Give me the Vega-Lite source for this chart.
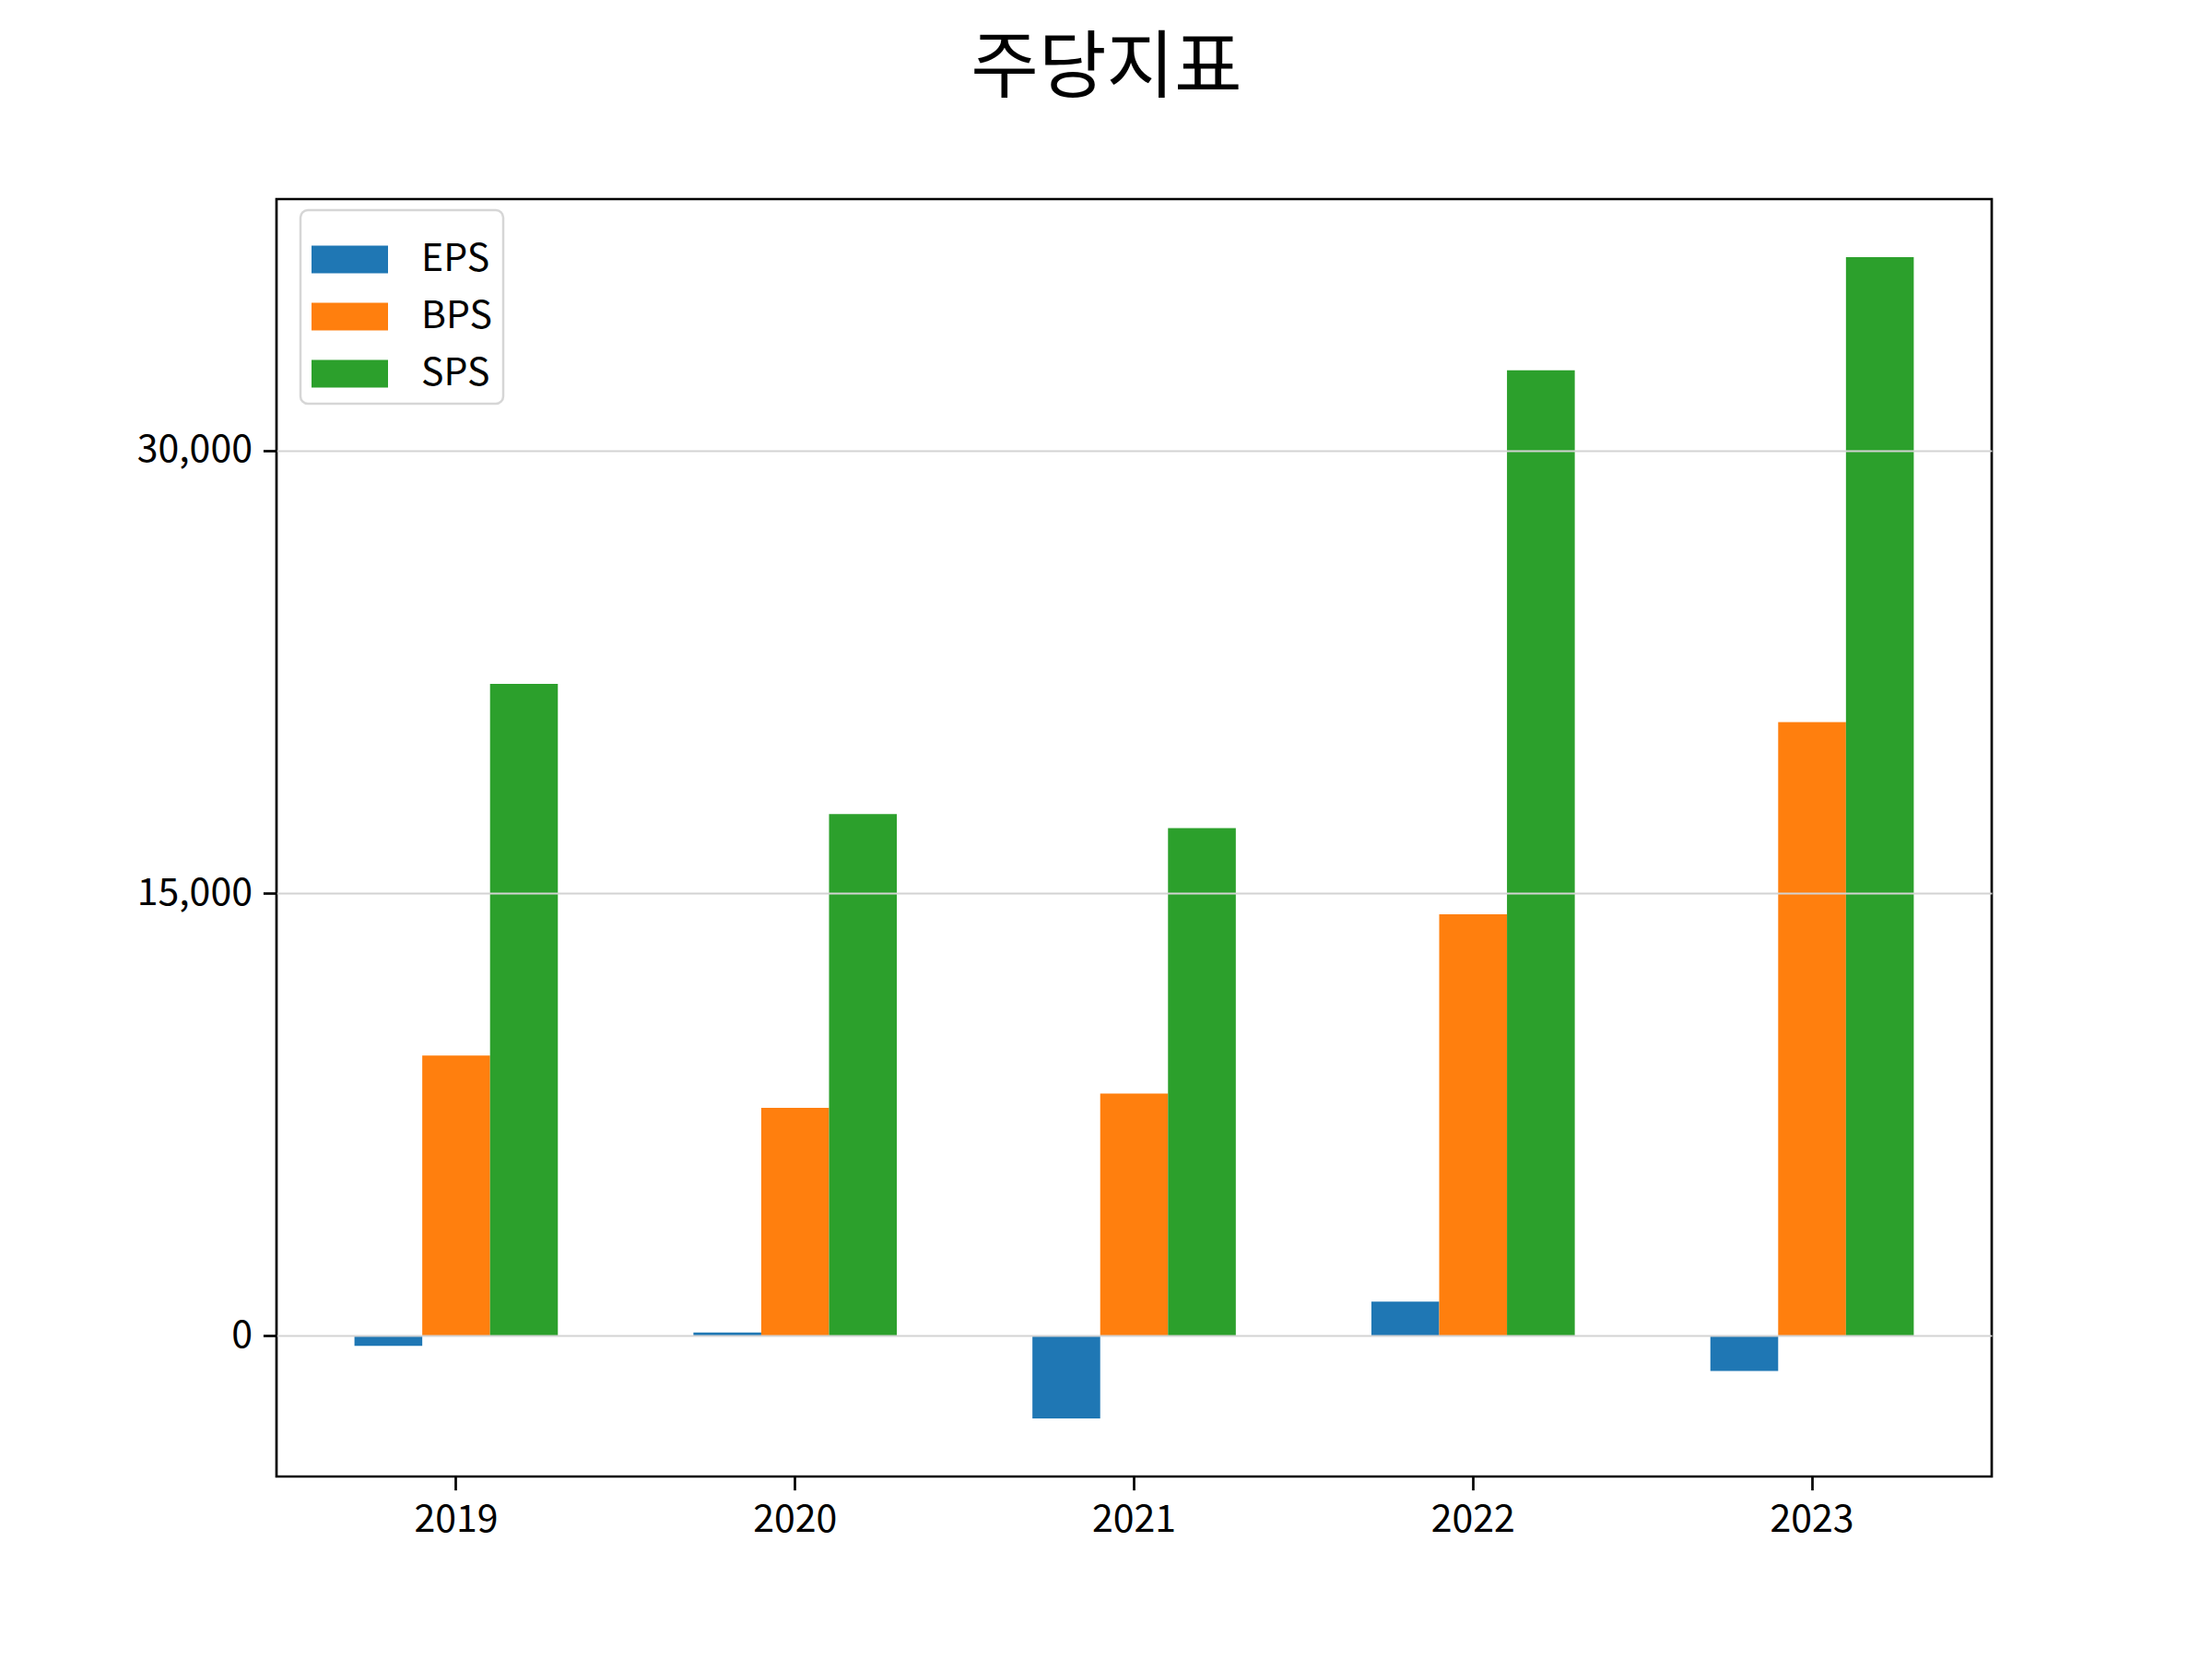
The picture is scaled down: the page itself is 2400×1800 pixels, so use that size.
{
  "$schema": "https://vega.github.io/schema/vega-lite/v6.json",
  "width": 1861,
  "height": 1386,
  "autosize": {"type": "none"},
  "padding": {"left": 300, "top": 216, "right": 239, "bottom": 198},
  "background": "white",
  "title": {
    "text": "주당지표",
    "font": "Noto Sans CJK KR",
    "fontSize": 80,
    "fontWeight": "normal",
    "color": "black",
    "anchor": "middle",
    "dx": -30,
    "offset": 100
  },
  "config": {
    "view": {"stroke": "black", "strokeWidth": 2.7},
    "font": "Noto Sans CJK KR"
  },
  "data": {
    "values": [
      {"year": "2019", "metric": "EPS", "value": -350},
      {"year": "2019", "metric": "BPS", "value": 9490},
      {"year": "2019", "metric": "SPS", "value": 22090},
      {"year": "2020", "metric": "EPS", "value": 100},
      {"year": "2020", "metric": "BPS", "value": 7720},
      {"year": "2020", "metric": "SPS", "value": 17680},
      {"year": "2021", "metric": "EPS", "value": -2812},
      {"year": "2021", "metric": "BPS", "value": 8200},
      {"year": "2021", "metric": "SPS", "value": 17200},
      {"year": "2022", "metric": "EPS", "value": 1150},
      {"year": "2022", "metric": "BPS", "value": 14280},
      {"year": "2022", "metric": "SPS", "value": 32730},
      {"year": "2023", "metric": "EPS", "value": -1200},
      {"year": "2023", "metric": "BPS", "value": 20800},
      {"year": "2023", "metric": "SPS", "value": 36562}
    ]
  },
  "mark": {"type": "bar", "strokeWidth": 0},
  "encoding": {
    "x": {
      "field": "year",
      "type": "nominal",
      "scale": {"paddingInner": 0.4, "paddingOuter": 0.23},
      "axis": {
        "title": null,
        "labelAngle": 0,
        "labelFontSize": 41,
        "labelColor": "black",
        "labelPadding": 13,
        "tickSize": 14.6,
        "tickWidth": 2.7,
        "tickColor": "black",
        "domain": false,
        "grid": false
      }
    },
    "xOffset": {
      "field": "metric",
      "type": "nominal",
      "sort": ["EPS", "BPS", "SPS"],
      "scale": {"paddingInner": 0, "paddingOuter": 0}
    },
    "y": {
      "field": "value",
      "type": "quantitative",
      "scale": {"domain": [-4781, 38531], "nice": false, "zero": false},
      "axis": {
        "title": null,
        "values": [0, 15000, 30000],
        "format": ",d",
        "labelFontSize": 41,
        "labelColor": "black",
        "labelPadding": 12,
        "tickSize": 14.6,
        "tickWidth": 2.7,
        "tickColor": "black",
        "domain": false,
        "grid": true,
        "gridColor": "#d3d3d3",
        "gridWidth": 2,
        "zindex": 1
      }
    },
    "color": {
      "field": "metric",
      "type": "nominal",
      "sort": ["EPS", "BPS", "SPS"],
      "scale": {"domain": ["EPS", "BPS", "SPS"], "range": ["#1f77b4", "#ff7f0e", "#2ca02c"]},
      "legend": {
        "title": null,
        "orient": "none",
        "legendX": 26,
        "legendY": 12,
        "padding": 12,
        "fillColor": "white",
        "strokeColor": "#d6d6d6",
        "cornerRadius": 8,
        "symbolType": "M-1,-0.361H1V0.361H-1Z",
        "symbolSize": 6889,
        "symbolStrokeWidth": 0,
        "labelFontSize": 41,
        "labelColor": "black",
        "labelOffset": 36,
        "rowPadding": 0,
        "encode": {"legend": {"update": {"strokeWidth": {"value": 2.5}}}}
      }
    }
  }
}
